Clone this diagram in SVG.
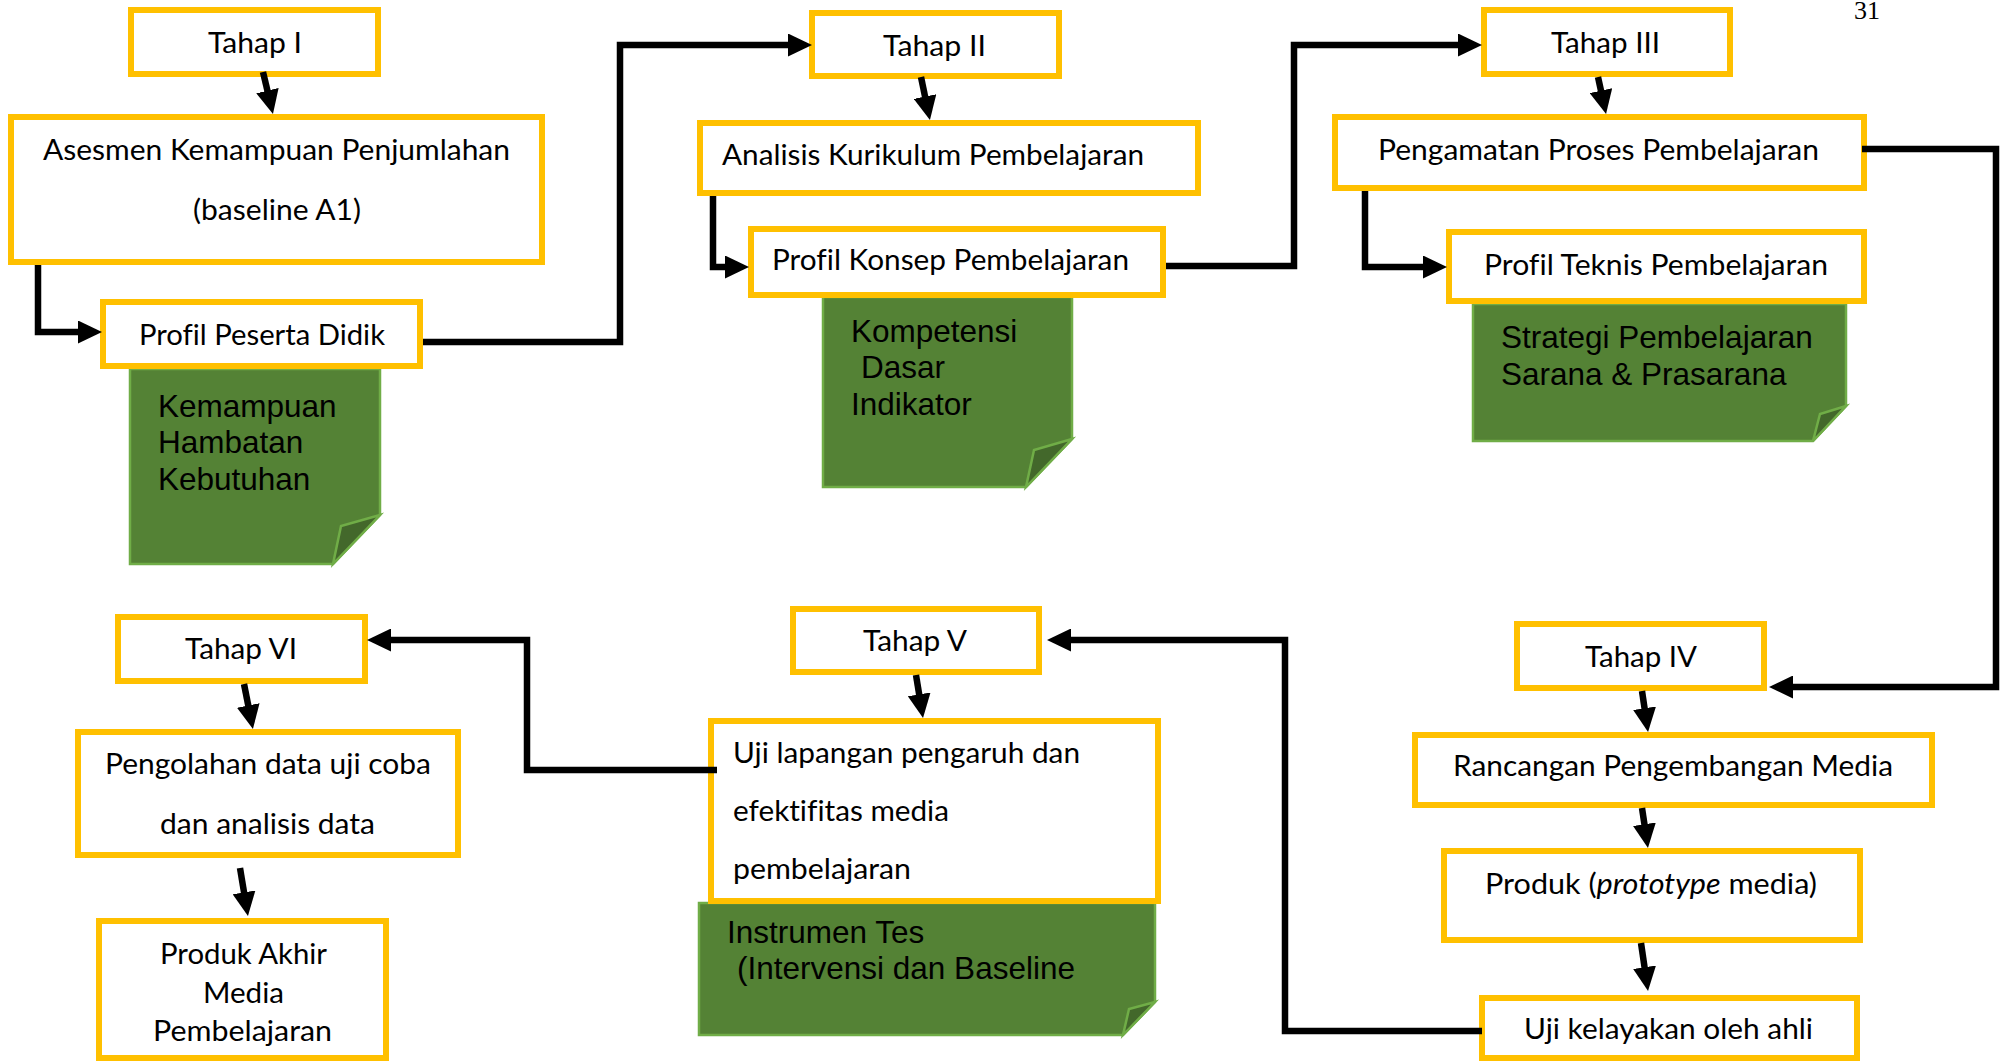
<svg xmlns="http://www.w3.org/2000/svg" width="2007" height="1061" viewBox="0 0 2007 1061">
<style>
.box{fill:#fff;stroke:#FFC000;stroke-width:6}
.note{fill:#548235;stroke:#70AD47;stroke-width:2.5}
.fold{fill:#43682B;stroke:#70AD47;stroke-width:2.5}
.t{font-family:Lato,"Liberation Sans",sans-serif;font-size:28.5px;fill:#000;font-variant-ligatures:none}
.n{font-family:"Liberation Sans",Arial,sans-serif;font-size:31.5px;fill:#000}
.c{fill:none;stroke:#000;stroke-width:6.5;marker-end:url(#ah)}
.pg{font-family:"Liberation Serif","Times New Roman",serif;font-size:26px;fill:#000}
</style>
<defs>
<marker id="ah" viewBox="0 0 24 23" markerUnits="userSpaceOnUse" markerWidth="24" markerHeight="23" refX="12" refY="11.5" orient="auto">
<path d="M0,0 L24,11.5 L0,23 Z" fill="#000"/>
</marker>
</defs>
<rect width="2007" height="1061" fill="#fff"/>
<text class="pg" x="1854" y="19">31</text>

<g id="note1">
<path class="note" d="M130,369 H380 V515 L333,564 H130 Z"/>
<path class="fold" d="M380,515 L341,526 L333,564 Z"/>
<text class="n" x="158" y="417">Kemampuan</text>
<text class="n" x="158" y="453">Hambatan</text>
<text class="n" x="158" y="490">Kebutuhan</text>
</g>
<g id="note2">
<path class="note" d="M823,297 H1072 V439 L1026,487 H823 Z"/>
<path class="fold" d="M1072,439 L1034,450 L1026,487 Z"/>
<text class="n" x="851" y="342">Kompetensi</text>
<text class="n" x="861" y="378">Dasar</text>
<text class="n" x="851" y="415">Indikator</text>
</g>
<g id="note3">
<path class="note" d="M1473,304 H1846 V406 L1813,441 H1473 Z"/>
<path class="fold" d="M1846,406 L1820,414 L1813,441 Z"/>
<text class="n" x="1501" y="348">Strategi Pembelajaran</text>
<text class="n" x="1501" y="385">Sarana &amp; Prasarana</text>
</g>
<g id="note5">
<path class="note" d="M699,903 H1155 V1002 L1123,1035 H699 Z"/>
<path class="fold" d="M1155,1002 L1129,1009 L1123,1035 Z"/>
<text class="n" x="727" y="943">Instrumen Tes</text>
<text class="n" x="737" y="979">(Intervensi dan Baseline</text>
</g>

<g id="tahap1">
<rect class="box" x="131" y="10" width="247" height="64"/>
<text class="t" x="208" y="53" textLength="94" lengthAdjust="spacingAndGlyphs">Tahap I</text>
</g>
<g id="asesmen">
<rect class="box" x="11" y="117" width="531" height="145"/>
<text class="t" x="43" y="160" textLength="467" lengthAdjust="spacingAndGlyphs">Asesmen Kemampuan Penjumlahan</text>
<text class="t" x="193" y="220" textLength="168" lengthAdjust="spacingAndGlyphs">(baseline A1)</text>
</g>
<g id="profil-peserta">
<rect class="box" x="103" y="302" width="317" height="64"/>
<text class="t" x="139" y="345" textLength="246" lengthAdjust="spacingAndGlyphs">Profil Peserta Didik</text>
</g>
<g id="tahap2">
<rect class="box" x="812" y="13" width="247" height="63"/>
<text class="t" x="883" y="56" textLength="103" lengthAdjust="spacingAndGlyphs">Tahap II</text>
</g>
<g id="analisis">
<rect class="box" x="700" y="123" width="498" height="70"/>
<text class="t" x="722" y="165" textLength="422" lengthAdjust="spacingAndGlyphs">Analisis Kurikulum Pembelajaran</text>
</g>
<g id="profil-konsep">
<rect class="box" x="751" y="229" width="412" height="66"/>
<text class="t" x="772" y="270" textLength="357" lengthAdjust="spacingAndGlyphs">Profil Konsep Pembelajaran</text>
</g>
<g id="tahap3">
<rect class="box" x="1484" y="10" width="246" height="64"/>
<text class="t" x="1551" y="53" textLength="109" lengthAdjust="spacingAndGlyphs">Tahap III</text>
</g>
<g id="pengamatan">
<rect class="box" x="1335" y="117" width="529" height="71"/>
<text class="t" x="1378" y="160" textLength="441" lengthAdjust="spacingAndGlyphs">Pengamatan Proses Pembelajaran</text>
</g>
<g id="profil-teknis">
<rect class="box" x="1449" y="232" width="415" height="69"/>
<text class="t" x="1484" y="275" textLength="344" lengthAdjust="spacingAndGlyphs">Profil Teknis Pembelajaran</text>
</g>
<g id="tahap4">
<rect class="box" x="1517" y="624" width="247" height="64"/>
<text class="t" x="1585" y="667" textLength="112" lengthAdjust="spacingAndGlyphs">Tahap IV</text>
</g>
<g id="rancangan">
<rect class="box" x="1415" y="735" width="517" height="70"/>
<text class="t" x="1453" y="776" textLength="440" lengthAdjust="spacingAndGlyphs">Rancangan Pengembangan Media</text>
</g>
<g id="produk">
<rect class="box" x="1444" y="851" width="416" height="89"/>
<text class="t" x="1485" y="894" textLength="332" lengthAdjust="spacingAndGlyphs">Produk (<tspan font-style="italic">prototype</tspan> media)</text>
</g>
<g id="uji-kelayakan">
<rect class="box" x="1482" y="998" width="375" height="60"/>
<text class="t" x="1524" y="1039" textLength="289" lengthAdjust="spacingAndGlyphs">Uji kelayakan oleh ahli</text>
</g>
<g id="tahap5">
<rect class="box" x="793" y="609" width="246" height="63"/>
<text class="t" x="863" y="651" textLength="104" lengthAdjust="spacingAndGlyphs">Tahap V</text>
</g>
<g id="uji-lapangan">
<rect class="box" x="711" y="721" width="447" height="180"/>
<text class="t" x="733" y="763" textLength="347" lengthAdjust="spacingAndGlyphs">Uji lapangan pengaruh dan</text>
<text class="t" x="733" y="821" textLength="216" lengthAdjust="spacingAndGlyphs">efektifitas media</text>
<text class="t" x="733" y="879" textLength="178" lengthAdjust="spacingAndGlyphs">pembelajaran</text>
</g>
<g id="tahap6">
<rect class="box" x="118" y="617" width="247" height="64"/>
<text class="t" x="185" y="659" textLength="112" lengthAdjust="spacingAndGlyphs">Tahap VI</text>
</g>
<g id="pengolahan">
<rect class="box" x="78" y="732" width="380" height="123"/>
<text class="t" x="105" y="774" textLength="326" lengthAdjust="spacingAndGlyphs">Pengolahan data uji coba</text>
<text class="t" x="160" y="834" textLength="215" lengthAdjust="spacingAndGlyphs">dan analisis data</text>
</g>
<g id="produk-akhir">
<rect class="box" x="99" y="921" width="287" height="137"/>
<text class="t" x="160" y="964" textLength="167" lengthAdjust="spacingAndGlyphs">Produk Akhir</text>
<text class="t" x="203" y="1003" textLength="81" lengthAdjust="spacingAndGlyphs">Media</text>
<text class="t" x="153" y="1041" textLength="179" lengthAdjust="spacingAndGlyphs">Pembelajaran</text>
</g>

<g id="connectors">
<path class="c" d="M263,72 L270.2,102.3"/>
<path class="c" d="M38,265 V332 H90"/>
<path class="c" d="M423,342 H620 V45 H800"/>
<path class="c" d="M921,77 L927.5,108.3"/>
<path class="c" d="M713,196 V267 H737"/>
<path class="c" d="M1166,266 H1294 V45 H1470"/>
<path class="c" d="M1598,77 L1603.5,102.3"/>
<path class="c" d="M1365,191 V267 H1435"/>
<path class="c" d="M1862,149 H1996 V687 H1781"/>
<path class="c" d="M1642,691 L1646.3,720.1"/>
<path class="c" d="M1642,808 L1646.2,836.1"/>
<path class="c" d="M1641,943 L1646.3,979.1"/>
<path class="c" d="M1482,1031 H1285 V640 H1059"/>
<path class="c" d="M916,675 L921.1,706.2"/>
<path class="c" d="M717,770 H527 V640 H379"/>
<path class="c" d="M244,684 L250.6,717.2"/>
<path class="c" d="M240,868 L246,904.2"/>
</g>
</svg>
